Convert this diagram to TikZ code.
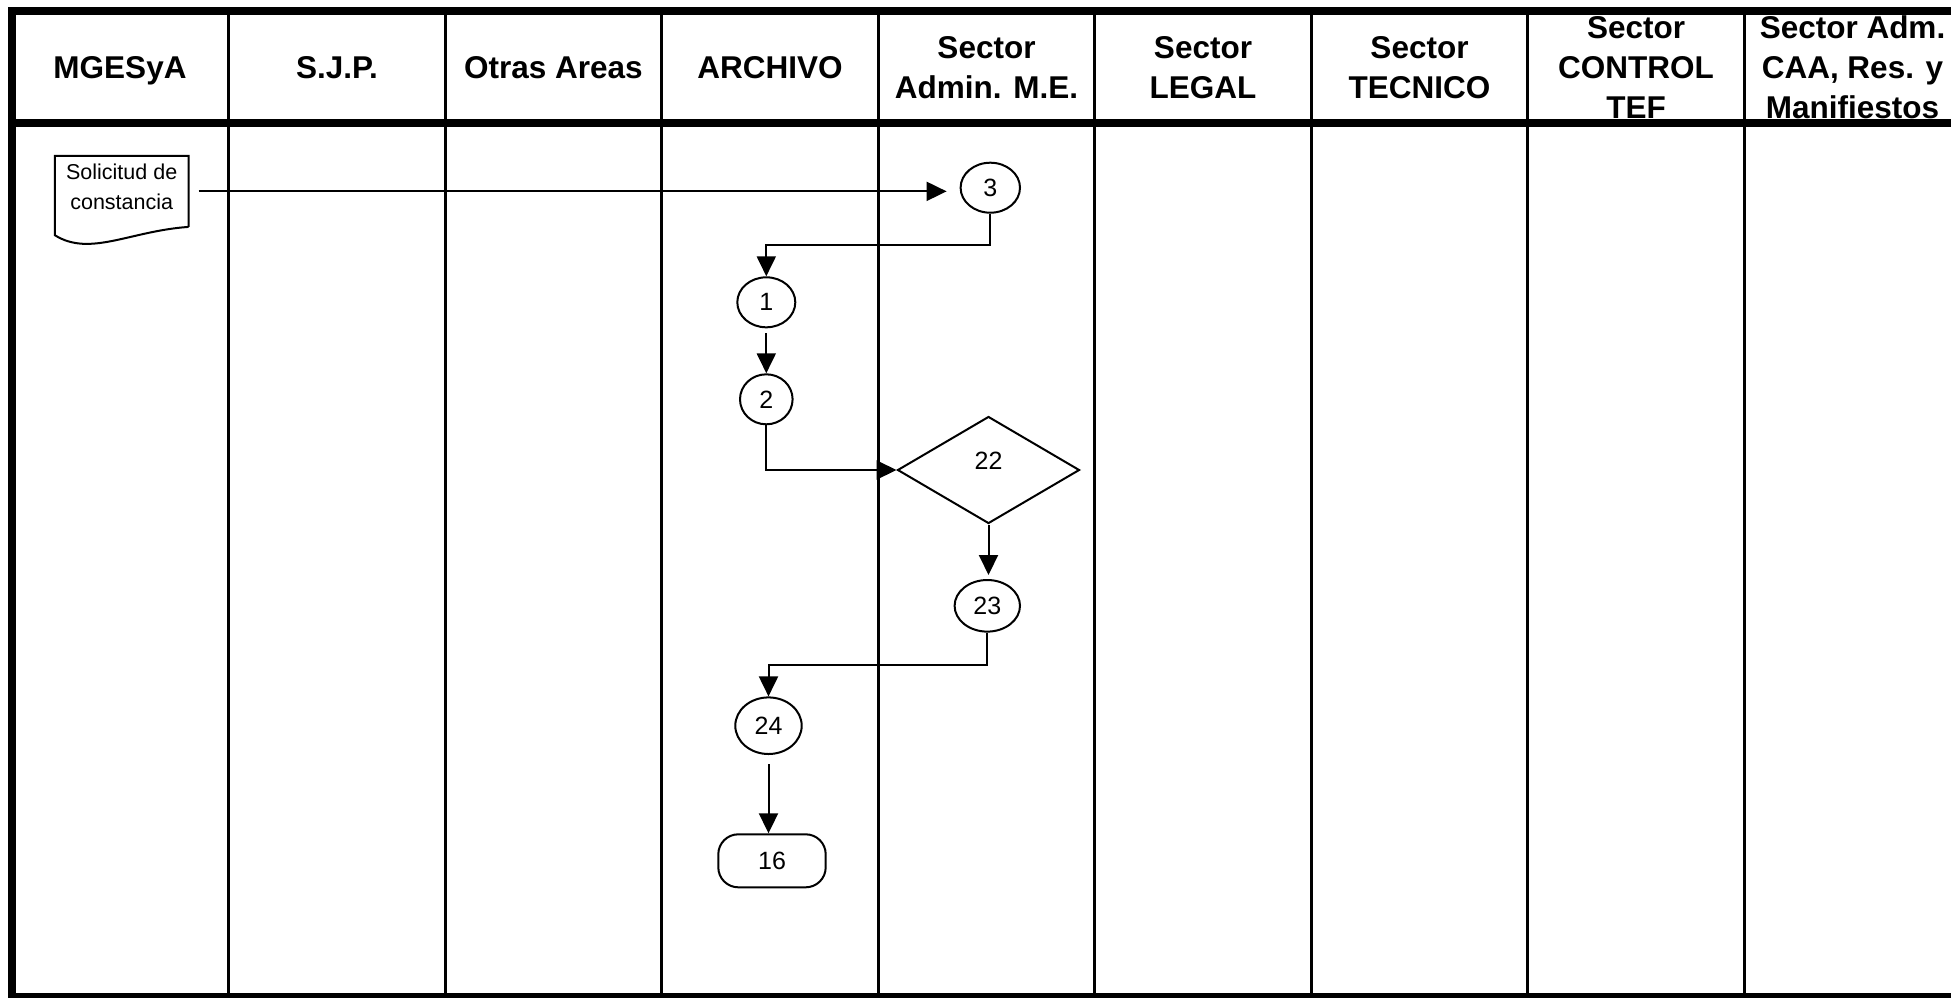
\documentclass[tikz,border=0pt]{standalone}
\usepackage{fontspec}
\setmainfont{Liberation Sans}
\usetikzlibrary{arrows.meta,shapes.geometric}
\begin{document}
\begin{tikzpicture}[x=1pt,y=-1pt,
  frame/.style={line width=8pt},
  divider/.style={line width=3pt},
  hdr/.style={font=\bfseries\fontsize{31.5}{40}\selectfont, align=center, inner sep=0pt},
  shapeline/.style={line width=2pt},
  arr/.style={line width=2pt, -{Triangle[length=20pt,width=19pt]}},
  conn/.style={draw, line width=2pt, ellipse, inner sep=0pt, font=\fontsize{25}{30}\selectfont},
  decision/.style={draw, line width=2pt, diamond, inner sep=0pt, minimum width=182pt, minimum height=107pt, font=\fontsize{25}{30}\selectfont, text height=18pt, text depth=18.6pt},
  terminal/.style={draw, line width=2pt, rounded corners=20pt, inner sep=0pt, minimum width=107.4pt, minimum height=53pt, font=\fontsize{25}{30}\selectfont},
  doctext/.style={font=\fontsize{21.5}{30}\selectfont, align=center, inner sep=0pt}
]
\clip (0,0) rectangle (1951,997);
\fill[white] (0,0) rectangle (1951,997);

% header labels
\node[hdr] (hMGE) at (120,70.6) {MGESyA};
\node[hdr] (hSJP) at (337,67.5) {S.J.P.};
\node[hdr] (hOtr) at (553.5,67.5) {Otras Areas};
\node[hdr] (hArc) at (770,67.5) {ARCHIVO};
\node[hdr] (hAdm) at (986.5,67.5) {Sector\\Admin. M.E.};
\node[hdr] (hLeg) at (1203,67.5) {Sector\\LEGAL};
\node[hdr] (hTec) at (1419.5,67.5) {Sector\\TECNICO};
\node[hdr] (hCtl) at (1636,67.5) {Sector\\CONTROL\\TEF};
\node[hdr] (hCAA) at (1852.5,67.5) {Sector Adm.\\CAA, Res. y\\Manifiestos};

% lane dividers
\foreach \xx in {228.7,445.2,661.7,878.2,1094.7,1311.2,1527.7,1744.2}
  \draw[divider] (\xx,10.7) -- (\xx,997);

% frame
\draw[frame, line join=miter] (1960,10.7) -- (12,10.7) -- (12,997) -- (1960,997);
\draw[frame] (12,122.5) -- (1960,122.5);

% document shape
\node[minimum width=133.3pt, minimum height=70.7pt, inner sep=0pt] (doc) at (121.7,191.35) {};
\draw[shapeline, line join=miter] (doc.south east) -- (doc.north east) -- (doc.north west) -- ([yshift=-8.3pt]doc.south west)
  .. controls +(35,22) and +(-58.3,4) .. (doc.south east);
\node[doctext] (doctxt) at (121.7,187) {Solicitud de\\constancia};

% flow nodes
\node[conn, minimum width=59.4pt, minimum height=50pt] (c3) at (990.3,187.7) {3};
\node[conn, minimum width=58pt, minimum height=50pt] (c1) at (766.3,302.3) {1};
\node[conn, minimum width=52.6pt, minimum height=50pt] (c2) at (766.3,399.3) {2};
\node[decision] (d22) at (988.5,470) {22};
\node[conn, minimum width=65.4pt, minimum height=51.6pt] (c23) at (987.3,605.8) {23};
\node[conn, minimum width=66.4pt, minimum height=56.6pt] (c24) at (768.5,725.7) {24};
\node[terminal] (t16) at (772,860.8) {16};

% connectors
\draw[arr, shorten <=10pt, shorten >=13pt] (doc.east) -- (doc.east -| c3.west);
\draw[arr] (c3.south) -- ++(0,31.6) -| (c1.north);
\draw[arr, shorten <=5pt] (c1.south) -- (c2.north);
\draw[arr] (c2.south) |- (d22.west);
\draw[arr, shorten >=4pt] (d22.south) -- (d22.south |- c23.north);
\draw[arr] (c23.south) -- ++(0,32.6) -| (c24.north);
\draw[arr, shorten <=9pt] (c24.south) -- (c24.south |- t16.north);
\end{tikzpicture}
\end{document}
